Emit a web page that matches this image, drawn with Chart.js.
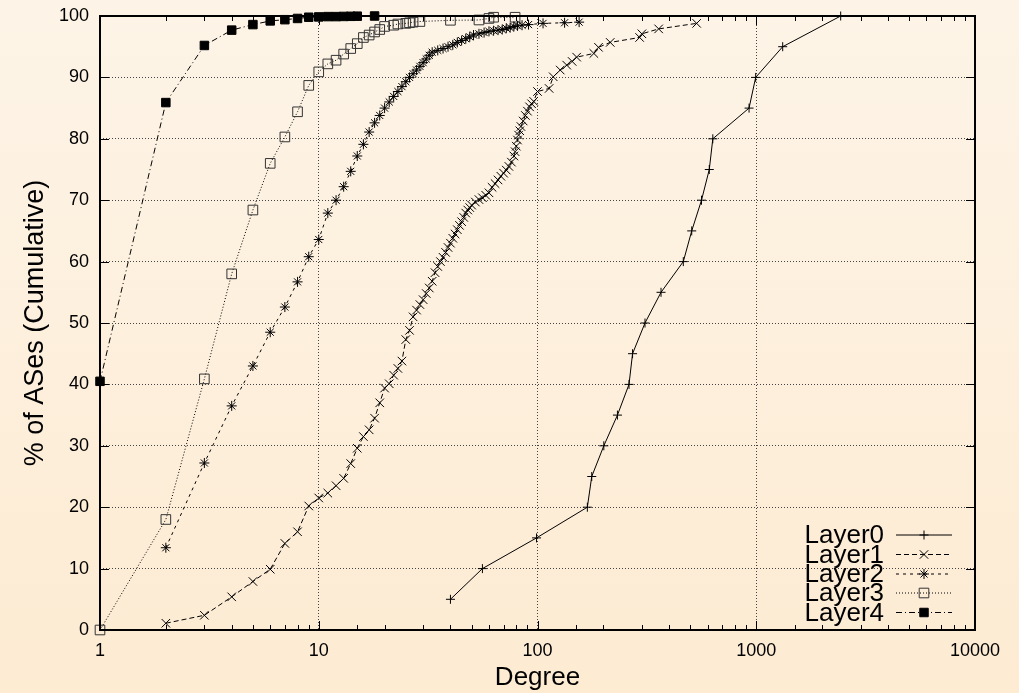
<!DOCTYPE html>
<html>
<head>
<meta charset="utf-8">
<script src="https://cdn.jsdelivr.net/npm/chart.js@4.4.1/dist/chart.umd.min.js"></script>
<style>
  html, body { margin: 0; padding: 0; background: #fdf1de; }
</style>
</head>
<body>
<canvas id="degreeChart" width="1019" height="693"></canvas>
<script>
// cumulative % of ASes by degree, one pair of arrays per layer
const layer0Deg = [40, 56, 99, 169, 177, 201, 232, 262, 272, 310, 367, 464, 507, 562, 610, 633, 927, 994, 1321, 2432];
const layer0Pct = [5, 10, 15, 20, 25, 30, 35, 40, 45, 50, 55, 60, 65, 70, 75, 80, 85, 90, 95, 100];

const layer1Deg = [2, 3, 4, 5, 6, 7, 8, 9, 10, 11, 12, 13, 14, 15, 16, 17, 18, 19, 20, 21, 22, 23, 24, 25, 26, 27, 28, 29, 30,
  31, 32, 33, 34, 35, 36, 37, 38, 39, 40, 41, 42, 43, 44, 45, 46, 47, 48, 49, 50, 52, 54, 56, 58, 60, 62, 64, 66, 68, 70,
  72, 74, 76, 78, 79, 80, 81, 82, 83, 84, 86, 88, 90, 92, 94, 96, 100, 113, 118, 127, 136, 144, 151, 181, 190, 215, 293, 300, 358, 534];
const layer1Pct = [1.1, 2.4, 5.4, 7.9, 9.9, 14.1, 16.0, 20.2, 21.5, 22.3, 23.5, 24.7, 27.1, 29.6, 31.5, 32.6, 34.5, 37.0, 39.4, 40.1, 41.5, 42.6, 43.8, 47.3, 48.8, 51.0, 52.1, 53.0, 53.8,
  54.8, 55.7, 56.8, 58.2, 59.2, 60.0, 60.7, 61.5, 62.3, 63.0, 63.8, 64.5, 65.2, 65.9, 66.5, 67.2, 67.9, 68.4, 68.8, 69.2, 69.7, 70.1, 70.4, 70.8, 71.2, 72.1, 72.7, 73.3, 73.9, 74.4,
  74.9, 75.5, 76.2, 77.2, 77.9, 78.8, 79.8, 80.6, 81.3, 82.0, 82.9, 83.8, 84.5, 85.2, 85.7, 86.1, 87.7, 88.2, 90.1, 91.2, 92.0, 92.6, 93.3, 93.9, 94.9, 95.7, 96.5, 97.1, 97.9, 98.8];

const layer2Deg = [2, 3, 4, 5, 6, 7, 8, 9, 10, 11, 12, 13, 14, 15, 16, 17, 18, 19, 20, 21, 22, 23, 24, 25, 26, 27, 28, 29, 30, 31, 32, 33,
  35, 37, 39, 41, 43, 45, 47, 49, 51, 54, 57, 60, 63, 66, 69, 72, 75, 78, 81, 85, 91, 106, 133, 155];
const layer2Pct = [13.4, 27.2, 36.5, 43.0, 48.5, 52.6, 56.7, 60.8, 63.6, 67.9, 70.0, 72.2, 74.7, 77.2, 79.1, 81.1, 82.6, 83.8, 85.0, 86.0, 86.9, 87.7, 88.5, 89.3, 90.0, 90.6, 91.2, 91.8, 92.4, 93.0, 93.6, 94.1,
  94.4, 94.7, 95.0, 95.3, 95.7, 96.0, 96.3, 96.6, 96.9, 97.1, 97.3, 97.5, 97.6, 97.7, 97.8, 98.0, 98.1, 98.3, 98.4, 98.5, 98.6, 98.8, 98.9, 99.0];

const layer3Deg = [1, 2, 3, 4, 5, 6, 7, 8, 9, 10, 11, 12, 13, 14, 15, 16, 17, 18, 19, 20, 22, 23, 25, 26, 27, 29, 40, 54, 60, 63, 79];
const layer3Pct = [0, 18.0, 40.9, 58.0, 68.4, 76.0, 80.3, 84.4, 88.7, 90.9, 92.2, 92.8, 93.8, 94.7, 95.5, 96.5, 96.9, 97.4, 97.8, 98.3, 98.5, 98.7, 98.8, 98.9, 99.0, 99.1, 99.3, 99.35, 99.6, 99.8, 99.8];

const layer4Deg = [1, 2, 3, 4, 5, 6, 7, 8, 9, 10, 11, 12, 13, 14, 15, 18];
const layer4Pct = [40.5, 85.9, 95.2, 97.7, 98.6, 99.2, 99.4, 99.6, 99.8, 99.85, 99.9, 99.9, 99.93, 99.95, 99.97, 100];

const yTicks = [0, 10, 20, 30, 40, 50, 60, 70, 80, 90, 100];
const xDecades = [1, 10, 100, 1000, 10000];

const FONT = '"Liberation Sans", Arial, Helvetica, sans-serif';

function pts(xs, ys) {
  return xs.map((x, i) => ({ x: x, y: ys[i] }));
}

function isDecade(v) {
  const l = Math.log10(v);
  return Math.abs(l - Math.round(l)) < 1e-9;
}

// cream gradient behind everything
const paperBg = {
  id: 'paperBg',
  beforeDraw(chart) {
    const { ctx, width, height } = chart;
    const g = ctx.createLinearGradient(0, 0, 0, height);
    g.addColorStop(0, '#fdf4e7');
    g.addColorStop(1, '#fdebd2');
    ctx.save();
    ctx.fillStyle = g;
    ctx.fillRect(0, 0, width, height);
    ctx.restore();
  }
};

// gnuplot style frame with inward ticks
const frameTicks = {
  id: 'frameTicks',
  afterDatasetsDraw(chart) {
    const { ctx, chartArea: a, scales } = chart;
    const xs = scales.x, ys = scales.y;
    ctx.save();
    ctx.strokeStyle = '#000';
    ctx.lineWidth = 1;
    ctx.beginPath();
    xs.ticks.forEach(t => {
      const px = Math.round(xs.getPixelForValue(t.value)) + 0.5;
      const len = isDecade(t.value) ? 9 : 5;
      ctx.moveTo(px, a.bottom); ctx.lineTo(px, a.bottom - len);
      ctx.moveTo(px, a.top); ctx.lineTo(px, a.top + len);
    });
    ys.ticks.forEach(t => {
      const py = Math.round(ys.getPixelForValue(t.value)) + 0.5;
      ctx.moveTo(a.left, py); ctx.lineTo(a.left + 9, py);
      ctx.moveTo(a.right, py); ctx.lineTo(a.right - 9, py);
    });
    ctx.stroke();
    ctx.lineWidth = 2;
    ctx.strokeRect(a.left, a.top, a.right - a.left, a.bottom - a.top);
    ctx.restore();
  }
};

// key in the lower right corner: label, then line sample with marker
const gnuKey = {
  id: 'gnuKey',
  afterDraw(chart) {
    const { ctx } = chart;
    const textRight = 884, lineL = 896, lineR = 952, mid = 924;
    const rowY = [535, 554.5, 574, 593, 612.5];
    ctx.save();
    chart.data.datasets.forEach((ds, i) => {
      const y = rowY[i];
      ctx.fillStyle = '#000';
      ctx.font = '26px ' + FONT;
      ctx.textAlign = 'right';
      ctx.textBaseline = 'middle';
      ctx.fillText(ds.label, textRight, y + 1);
      ctx.strokeStyle = '#000';
      ctx.lineWidth = 1;
      ctx.setLineDash(ds.borderDash || []);
      ctx.beginPath();
      ctx.moveTo(lineL, y);
      ctx.lineTo(lineR, y);
      ctx.stroke();
      ctx.setLineDash([]);
      ctx.fillStyle = ds.pointBackgroundColor;
      ctx.strokeStyle = ds.pointBorderColor;
      Chart.helpers.drawPoint(ctx, {
        pointStyle: ds.pointStyle, radius: ds.pointRadius, rotation: 0, borderWidth: 1
      }, mid, y);
    });
    ctx.restore();
  }
};

const common = {
  borderColor: '#000',
  borderWidth: 1,
  pointBorderColor: '#000',
  pointBorderWidth: 1,
  pointHoverRadius: 0,
  tension: 0,
  fill: false,
  clip: 12
};

const ctx = document.getElementById('degreeChart').getContext('2d');
new Chart(ctx, {
  type: 'line',
  data: {
    datasets: [
      Object.assign({}, common, {
        label: 'Layer0', data: pts(layer0Deg, layer0Pct),
        borderDash: [], pointStyle: 'cross', pointRadius: 4.5, pointBackgroundColor: '#000'
      }),
      Object.assign({}, common, {
        label: 'Layer1', data: pts(layer1Deg, layer1Pct),
        borderDash: [5, 3], pointStyle: 'crossRot', pointRadius: 6, pointBackgroundColor: '#000'
      }),
      Object.assign({}, common, {
        label: 'Layer2', data: pts(layer2Deg, layer2Pct),
        borderDash: [3, 4], pointStyle: 'star', pointRadius: 5, pointBackgroundColor: '#000'
      }),
      Object.assign({}, common, {
        label: 'Layer3', data: pts(layer3Deg, layer3Pct),
        borderDash: [1, 2], pointStyle: 'rect', pointRadius: 6.8,
        pointBackgroundColor: 'rgba(0,0,0,0)', pointBorderColor: '#333'
      }),
      Object.assign({}, common, {
        label: 'Layer4', data: pts(layer4Deg, layer4Pct),
        borderDash: [6, 3, 1, 3], pointStyle: 'rect', pointRadius: 6, pointBackgroundColor: '#000'
      })
    ]
  },
  options: {
    responsive: false,
    devicePixelRatio: 1,
    animation: false,
    events: [],
    layout: { padding: { top: 16, right: 44, left: 0, bottom: 0 } },
    plugins: {
      legend: { display: false },
      tooltip: { enabled: false }
    },
    scales: {
      x: {
        type: 'logarithmic',
        min: 1,
        max: 10000,
        afterFit: s => { s.height = 63; },
        grid: {
          drawTicks: false,
          lineWidth: 1,
          color: c => (c.tick && isDecade(c.tick.value) ? '#444' : 'rgba(0,0,0,0)')
        },
        border: { display: false, dash: [1, 2] },
        ticks: {
          autoSkip: false,
          maxRotation: 0,
          padding: 10,
          color: '#000',
          font: { family: FONT, size: 18 },
          callback: v => (xDecades.includes(v) ? String(v) : '')
        },
        title: {
          display: true,
          text: 'Degree',
          color: '#000',
          font: { family: FONT, size: 26 },
          padding: { top: 0, bottom: 0 }
        }
      },
      y: {
        min: 0,
        max: 100,
        afterFit: s => { s.width = 100; s.paddingTop = 0; s.paddingBottom = 0; },
        afterBuildTicks: s => { s.ticks = yTicks.map(v => ({ value: v })); },
        grid: { drawTicks: false, lineWidth: 1, color: '#444' },
        border: { display: false, dash: [1, 2] },
        ticks: {
          padding: 11,
          color: '#000',
          font: { family: FONT, size: 18 }
        },
        title: {
          display: true,
          text: '% of ASes (Cumulative)',
          color: '#000',
          font: { family: FONT, size: 27 },
          padding: { top: 19, bottom: 0 }
        }
      }
    }
  },
  plugins: [paperBg, frameTicks, gnuKey]
});
</script>
</body>
</html>
